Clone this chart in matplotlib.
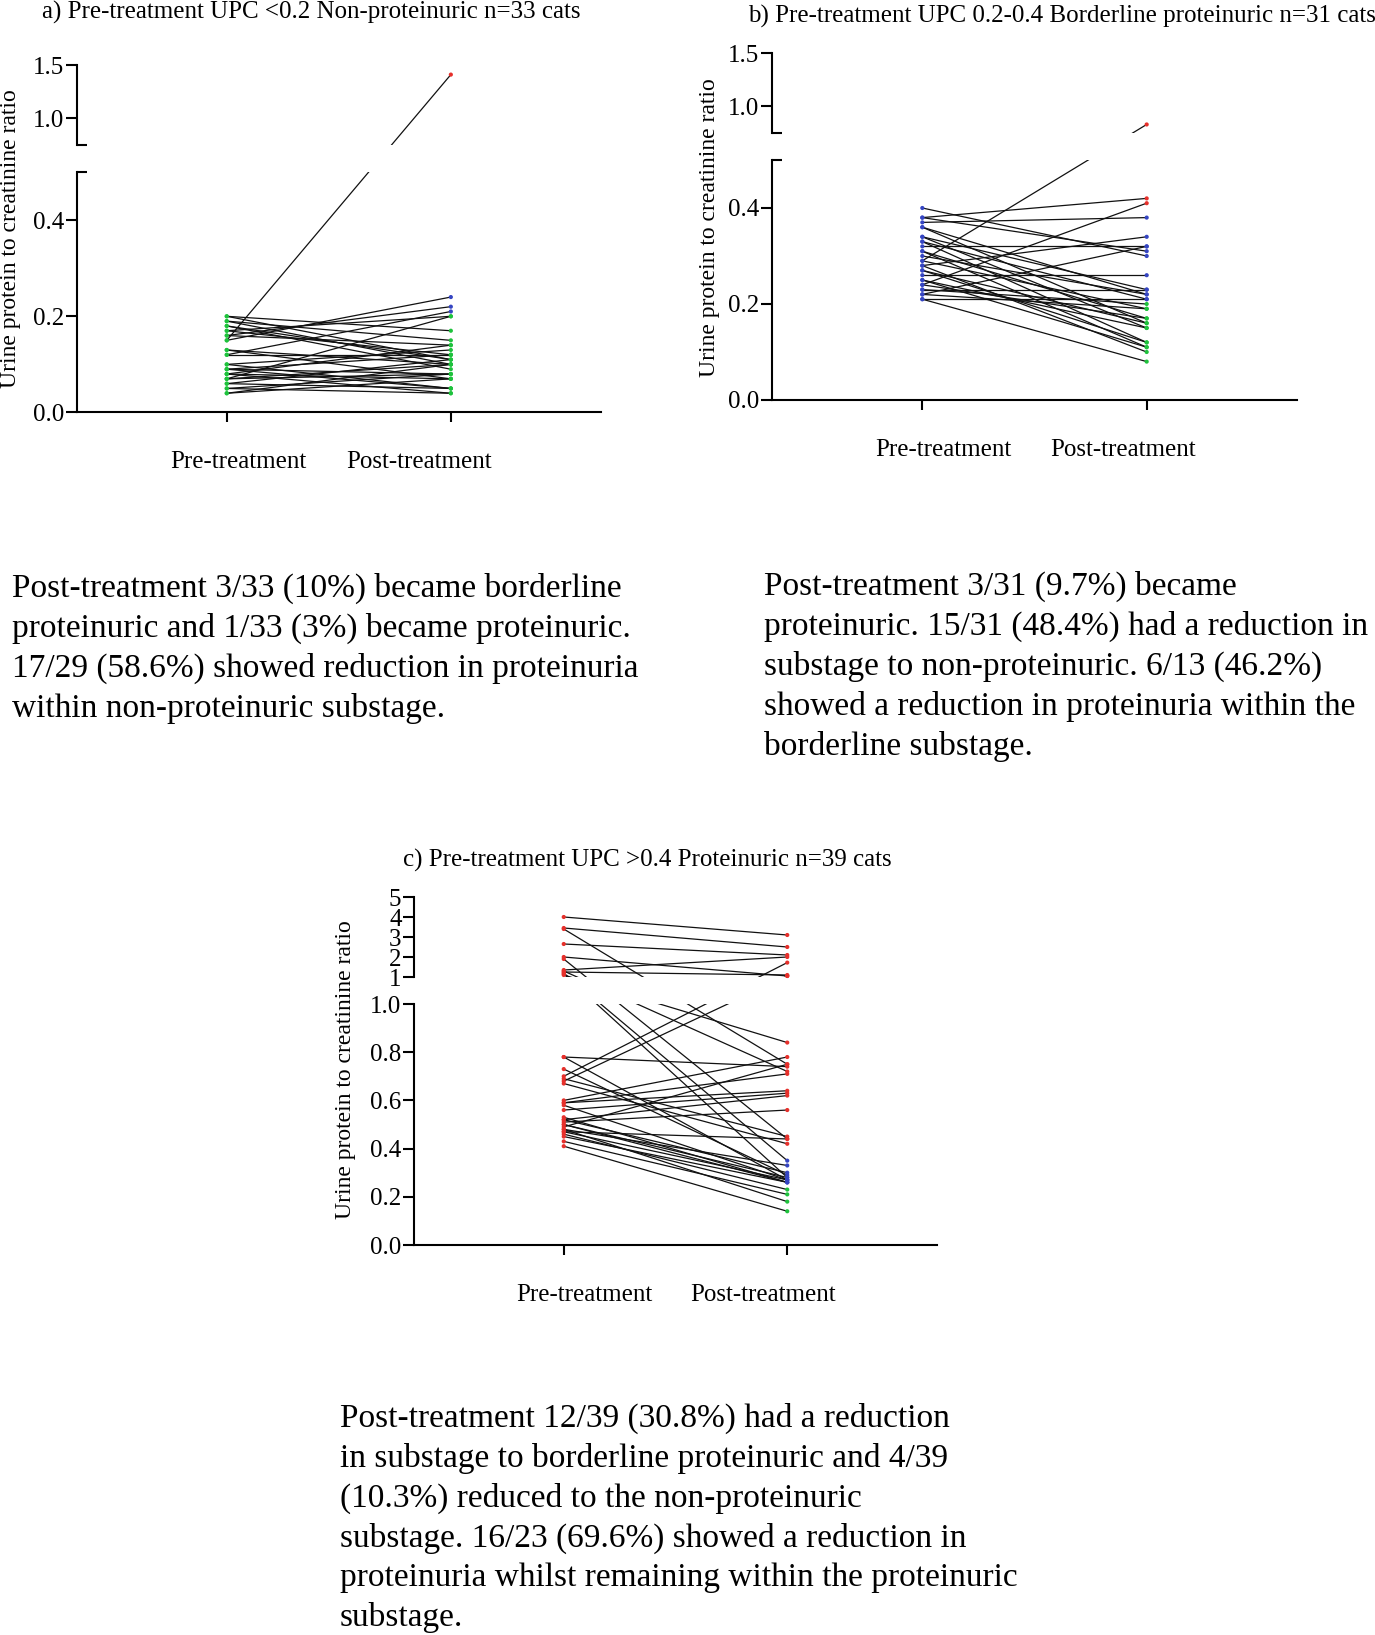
import numpy as np
import matplotlib
matplotlib.use("Agg")
import matplotlib.pyplot as plt
from matplotlib.ticker import FixedLocator, FormatStrFormatter

plt.rcParams['font.family'] = 'Liberation Serif'

W, H = 1375, 1635

# a) pre-treatment UPC < 0.2, n=33
a_pre = [0.15, 0.15, 0.16, 0.12, 0.07, 0.17, 0.20, 0.20, 0.19, 0.19, 0.18,
         0.18, 0.17, 0.16, 0.13, 0.13, 0.12, 0.10, 0.10, 0.09, 0.09, 0.08,
         0.08, 0.08, 0.07, 0.07, 0.06, 0.06, 0.05, 0.05, 0.04, 0.04, 0.09]
a_post = [1.41, 0.24, 0.22, 0.21, 0.20, 0.20, 0.17, 0.11, 0.10, 0.15, 0.09,
          0.11, 0.12, 0.14, 0.10, 0.07, 0.12, 0.05, 0.13, 0.08, 0.05, 0.14,
          0.07, 0.04, 0.08, 0.10, 0.05, 0.11, 0.04, 0.08, 0.07, 0.10, 0.12]

# b) pre-treatment UPC 0.2-0.4, n=31
b_pre = [0.40, 0.38, 0.38, 0.37, 0.36, 0.36, 0.34, 0.34, 0.33, 0.33, 0.32,
         0.31, 0.31, 0.30, 0.29, 0.29, 0.28, 0.28, 0.27, 0.27, 0.26, 0.25,
         0.25, 0.24, 0.24, 0.23, 0.22, 0.21, 0.23, 0.22, 0.21]
b_post = [0.30, 0.42, 0.31, 0.38, 0.22, 0.16, 0.23, 0.15, 0.12, 0.21, 0.32,
          0.17, 0.11, 0.22, 0.83, 0.19, 0.34, 0.10, 0.12, 0.16, 0.26, 0.15,
          0.11, 0.41, 0.17, 0.23, 0.32, 0.21, 0.20, 0.19, 0.08]

# c) pre-treatment UPC > 0.4, n=39
c_pre = [4.00, 3.45, 3.40, 2.65, 2.00, 1.90, 1.35, 1.30, 1.25, 1.20, 1.15,
         1.10, 0.78, 0.78, 0.73, 0.70, 0.69, 0.68, 0.67, 0.60, 0.59, 0.59,
         0.58, 0.56, 0.53, 0.52, 0.52, 0.51, 0.50, 0.50, 0.49, 0.48, 0.47,
         0.47, 0.46, 0.45, 0.43, 0.41, 0.48]
c_post = [3.10, 2.50, 0.75, 2.10, 1.05, 0.44, 2.00, 0.72, 1.10, 0.35, 0.28,
          0.84, 0.74, 0.27, 0.29, 1.72, 0.45, 1.05, 0.42, 0.78, 0.71, 0.64,
          0.27, 0.63, 0.26, 0.62, 0.30, 0.56, 0.28, 0.26, 0.75, 0.33, 0.44,
          0.27, 0.23, 0.26, 0.21, 0.14, 0.18]

titles = ["a) Pre-treatment UPC <0.2 Non-proteinuric n=33 cats",
          "b) Pre-treatment UPC 0.2-0.4 Borderline proteinuric n=31 cats",
          "c) Pre-treatment UPC >0.4 Proteinuric n=39 cats"]
groups = ["Pre-treatment", "Post-treatment"]
ylab = "Urine protein to creatinine ratio"

notes = ["Post-treatment 3/33 (10%) became borderline\n"
         "proteinuric and 1/33 (3%) became proteinuric.\n"
         "17/29 (58.6%) showed reduction in proteinuria\n"
         "within non-proteinuric substage.",
         "Post-treatment 3/31 (9.7%) became\n"
         "proteinuric. 15/31 (48.4%) had a reduction in\n"
         "substage to non-proteinuric. 6/13 (46.2%)\n"
         "showed a reduction in proteinuria within the\n"
         "borderline substage.",
         "Post-treatment 12/39 (30.8%) had a reduction\n"
         "in substage to borderline proteinuric and 4/39\n"
         "(10.3%) reduced to the non-proteinuric\n"
         "substage. 16/23 (69.6%) showed a reduction in\n"
         "proteinuria whilst remaining within the proteinuric\n"
         "substage."]

GREEN, BLUE, RED = '#1ec23c', '#3545c2', '#e6302b'


def stage_colour(v, green_max):
    if v <= green_max + 1e-9:
        return GREEN
    if v <= 0.4 + 1e-9:
        return BLUE
    return RED


def rect(x0, x1, y0, y1):
    # pixel box (from top-left) -> figure fraction
    return [x0 / W, 1 - y1 / H, (x1 - x0) / W, (y1 - y0) / H]


def panel(fig, pre, post, box, lims, bot_ticks, top_ticks, fmt_bot, fmt_top,
          green_max, xlab_pos):
    x0, x1, y_top, y_hi, y_lo, y_bot = box
    b1, t0, t1 = lims
    xl = (-0.67, 1.67)

    # line layer: one axis whose y scale reproduces the broken axis
    pix = [0, y_bot - y_lo, y_bot - y_hi, y_bot - y_top]
    vals = [0, b1, max(t0, b1 + 1e-6), t1]
    axl = fig.add_axes(rect(x0, x1, y_top, y_bot), zorder=0)
    axl.set_yscale('function', functions=(lambda v: np.interp(v, vals, pix),
                                          lambda p: np.interp(p, pix, vals)))
    axl.set_xlim(xl)
    axl.set_ylim(0, t1)
    axl.set_axis_off()
    for p, q in zip(pre, post):
        axl.plot([0, 1], [p, q], color='#111111', lw=0.9, zorder=2)
    axl.axhspan(vals[1], vals[2], color='white', lw=0, zorder=3)
    axl.scatter(np.zeros(len(pre)), pre, s=9, lw=0, zorder=4, clip_on=False,
                c=[stage_colour(v, green_max) for v in pre])
    axl.scatter(np.ones(len(post)), post, s=9, lw=0, zorder=4, clip_on=False,
                c=[stage_colour(v, green_max) for v in post])

    axb = fig.add_axes(rect(x0, x1, y_lo, y_bot), zorder=1)
    axt = fig.add_axes(rect(x0, x1, y_top, y_hi), zorder=1)
    for ax in (axb, axt):
        ax.set_facecolor('none')
        ax.set_xlim(xl)
        ax.spines['top'].set_visible(False)
        ax.spines['right'].set_visible(False)
        for s in ('left', 'bottom'):
            ax.spines[s].set_linewidth(1.5)
        ax.tick_params(axis='y', which='major', direction='out', length=8,
                       width=1.5, pad=1, labelsize=18)
        ax.tick_params(axis='y', which='minor', direction='in', length=7,
                       width=1.5)
    axt.spines['bottom'].set_visible(False)
    axt.set_xticks([])

    axb.set_ylim(0, b1)
    axb.set_yticks(bot_ticks)
    axb.yaxis.set_major_formatter(FormatStrFormatter(fmt_bot))
    axb.yaxis.set_minor_locator(FixedLocator([b1]))
    axb.set_xticks([0, 1])
    axb.set_xticklabels([])
    axb.tick_params(axis='x', direction='out', length=7, width=1.5)

    axt.set_ylim(t0, t1)
    axt.set_yticks(top_ticks)
    axt.yaxis.set_major_formatter(FormatStrFormatter(fmt_top))
    axt.yaxis.set_minor_locator(FixedLocator([t0]))

    for xp, lab in zip(xlab_pos, groups):
        axb.annotate(lab, xy=(xp, 0), xycoords=('data', 'axes fraction'),
                     xytext=(0, -36), textcoords='offset points',
                     ha='center', va='center', fontsize=18)


fig = plt.figure(figsize=(W / 100, H / 100), dpi=100)

panel(fig, a_pre, a_post, (76.6, 601, 65, 145, 172, 412.5), (0.5, 0.75, 1.5),
      [0, 0.2, 0.4], [1.0, 1.5], '%.1f', '%.1f', 0.2, (0.05, 0.86))
panel(fig, b_pre, b_post, (772, 1297, 53, 133, 160, 400), (0.5, 0.75, 1.5),
      [0, 0.2, 0.4], [1.0, 1.5], '%.1f', '%.1f', 0.2, (0.094, 0.893))
panel(fig, c_pre, c_post, (414, 937, 897, 977, 1004, 1245), (1.0, 1.0, 5.0),
      [0, 0.2, 0.4, 0.6, 0.8, 1.0], [1, 2, 3, 4, 5], '%.1f', '%d', 0.23,
      (0.094, 0.893))

# titles, y labels, notes (pixel positions from top-left)
for (tx, ty), t in zip([(42, 12), (748, 16), (403, 860)], titles):
    fig.text(tx / W, 1 - ty / H, t, ha='left', va='center', fontsize=18)
for (lx, ly) in [(11, 239), (709, 228), (345, 1070)]:
    fig.text(lx / W, 1 - ly / H, ylab, rotation=90, ha='center', va='center',
             fontsize=17)
# baseline here is that of the last line of each note
for (nx, ny), t in zip([(12.5, 717), (764, 755), (340, 1626)], notes):
    fig.text(nx / W, 1 - ny / H, t, ha='left', va='baseline', fontsize=24,
             linespacing=1.37)

fig.savefig("out.png", dpi=100)
